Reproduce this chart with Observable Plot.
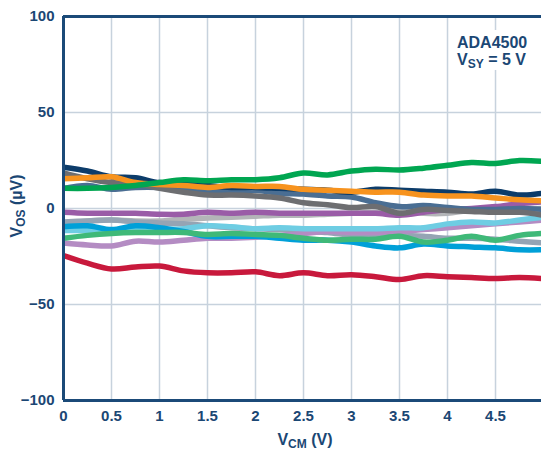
<!DOCTYPE html>
<html><head><meta charset="utf-8">
<script src="https://cdn.jsdelivr.net/npm/d3@7"></script>
<script src="https://cdn.jsdelivr.net/npm/@observablehq/plot@0.6"></script>
<style>
html,body{margin:0;padding:0;background:#fff;}
#chart svg{display:block;}
</style></head><body><div id="chart"></div>
<script>
// V_CM sample positions (V)
const vcm = [0, 0.25, 0.5, 0.75, 1, 1.25, 1.5, 1.75, 2, 2.25, 2.5, 2.75, 3, 3.25, 3.5, 3.75, 4, 4.25, 4.5, 4.75, 5];
// V_OS (µV) for each unit
const lightGray  = [-8, -6.5, -6, -6.5, -6.5, -5.5, -5, -4.5, -4, -3.5, -3.5, -3, -2.5, -2, -1, -2.5, -2.5, -1, -1.5, -0.5, 0];
const grayBlue   = [-7, -6.5, -6, -7, -7.5, -8, -9, -10, -10.5, -11, -12, -12.5, -14, -14, -14, -14.5, -15.5, -15.5, -16, -17, -18];
const lightPurple= [-18, -19, -19.5, -17, -17.5, -16.5, -15.5, -15.5, -15, -14, -13, -12, -12.5, -12.5, -12, -11, -10, -9, -8, -7, -6];
const lightCyan  = [-11.5, -11.5, -11.5, -11.5, -11, -10.5, -9, -9.5, -10.5, -10, -10.5, -10.5, -10.5, -10.5, -10, -10, -8, -7, -7.5, -6, -4.5];
const cyan       = [-9.5, -9, -11, -9, -10, -12, -14.5, -14.5, -14.5, -15.5, -16.5, -16.5, -17.5, -19.5, -20.5, -18.5, -19.5, -20, -20.5, -21.5, -21.5];
const medGreen   = [-15.5, -14, -13, -12.5, -12.5, -12.5, -13.5, -13, -13.5, -14, -15.5, -16.5, -16, -16, -14.5, -17.5, -16.5, -14.5, -16.5, -14, -13];
const purple     = [-2, -2.5, -2.5, -2.5, -3, -3, -2, -2.5, -2, -2.5, -2.5, -2.5, -2.5, -2.5, -3.5, -2, -0.5, 0, 1, 2.5, 3.5];
const steelBlue  = [10.5, 12, 10, 11, 11, 10, 9.5, 9, 9.5, 8, 7.5, 6.5, 6, 3, 1, 1.5, 0.5, -0.5, -0.5, 0, -0.5];
const darkGray   = [18.5, 15.5, 13.5, 13, 10.5, 8.5, 7, 7, 6.5, 5.5, 3, 2, 0.5, 1, -2.5, -0.5, -1, -1.5, -2, -2, -3.5];
const navy       = [21.5, 19.5, 16.5, 16, 13.5, 14, 12, 11, 11, 10.5, 10, 9.5, 8.5, 10, 9.5, 9, 8.5, 7.5, 9, 7, 8];
const orange     = [15.5, 16, 16.5, 13.5, 12.5, 12, 11, 12, 11.5, 11.5, 10, 9.5, 9, 8.5, 8.5, 7, 6.5, 6.5, 5.5, 4.5, 4];
const green      = [10.5, 10.5, 11, 12, 13.5, 15, 14.5, 15, 15, 16, 18.5, 17.5, 19.5, 20.5, 20, 21, 22.5, 24, 23.5, 25, 24.5];
const red        = [-24.5, -28.5, -31.5, -30.5, -30, -32.5, -33.5, -33.5, -33, -35, -33.5, -35, -34.5, -35.5, -37, -35, -35.5, -36, -36.5, -36, -36.5];

const seriesList = [
  {v: lightGray, c: "#b3b5b8"},
  {v: grayBlue, c: "#95a4b4"},
  {v: lightPurple, c: "#b48cc3"},
  {v: lightCyan, c: "#6ecde3"},
  {v: cyan, c: "#00a0d8"},
  {v: medGreen, c: "#3fb978"},
  {v: purple, c: "#9a5ca7"},
  {v: steelBlue, c: "#4a6e93"},
  {v: darkGray, c: "#6d6e71"},
  {v: navy, c: "#0c3c6a"},
  {v: orange, c: "#f7931e"},
  {v: green, c: "#00a651"},
  {v: red, c: "#c8193c"}
];

const xTicks = [0, 0.5, 1, 1.5, 2, 2.5, 3, 3.5, 4, 4.5];
const yTicks = [-100, -50, 0, 50, 100];

const axisColor = "#1b4a78";
const textColor = "#1b4774";
const gridColor = "#c7d2dd";

const plot = Plot.plot({
  width: 541, height: 451,
  marginLeft: 63, marginRight: 0, marginTop: 16, marginBottom: 51,
  style: {fontFamily: "'Liberation Sans', Arial, sans-serif", fontSize: "15px", fontWeight: "bold", color: textColor, background: "white", overflow: "visible"},
  x: {domain: [0, 4.979], ticks: xTicks, tickFormat: d => String(d), tickSize: 0, tickPadding: 10, label: null},
  y: {domain: [-100, 100], ticks: yTicks, tickSize: 0, tickPadding: 9, label: null},
  marks: [
    Plot.gridX(xTicks.filter(d => d > 0), {stroke: gridColor, strokeOpacity: 1, strokeWidth: 1.5}),
    Plot.gridY([50, 0, -50], {stroke: gridColor, strokeOpacity: 1, strokeWidth: 1.5}),
    ...seriesList.map(s => Plot.line(vcm, {x: d => d, y: (d, i) => s.v[i], stroke: s.c, strokeWidth: 5.5, curve: "catmull-rom", clip: true, strokeLinejoin: "round", strokeLinecap: "round"})),
    Plot.ruleY([100, -100], {stroke: axisColor, strokeWidth: 3}),
    Plot.ruleX([0], {stroke: axisColor, strokeWidth: 3})
  ]
});

const svg = d3.select(plot);
const fam = "'Liberation Sans', Arial, sans-serif";
// annotation box
svg.append("rect").attr("x", 455).attr("y", 30).attr("width", 76).attr("height", 40).attr("fill", "white");
svg.append("text").attr("x", 457).attr("y", 48).attr("text-anchor", "start").attr("font-family", fam).attr("font-weight", "bold").attr("font-size", 16).attr("fill", textColor).text("ADA4500");
const t2 = svg.append("text").attr("x", 457).attr("y", 65).attr("text-anchor", "start").attr("font-family", fam).attr("font-weight", "bold").attr("font-size", 16).attr("fill", textColor);
t2.append("tspan").text("V");
t2.append("tspan").attr("font-size", 12).attr("dy", 3).text("SY");
t2.append("tspan").attr("dy", -3).text(" = 5 V");

// x axis label
const xl = svg.append("text").attr("x", 305).attr("y", 445).attr("text-anchor", "middle").attr("font-family", fam).attr("font-weight", "bold").attr("font-size", 16).attr("fill", textColor);
xl.append("tspan").text("V");
xl.append("tspan").attr("font-size", 12).attr("dy", 3).text("CM");
xl.append("tspan").attr("dy", -3).text(" (V)");

// y axis label
const yl = svg.append("text").attr("transform", "translate(22,206) rotate(-90)").attr("text-anchor", "middle").attr("font-family", fam).attr("font-weight", "bold").attr("font-size", 16).attr("fill", textColor);
yl.append("tspan").text("V");
yl.append("tspan").attr("font-size", 12).attr("dy", 3).text("OS");
yl.append("tspan").attr("dy", -3).text(" (µV)");

document.getElementById("chart").appendChild(plot);
</script>
</body></html>
